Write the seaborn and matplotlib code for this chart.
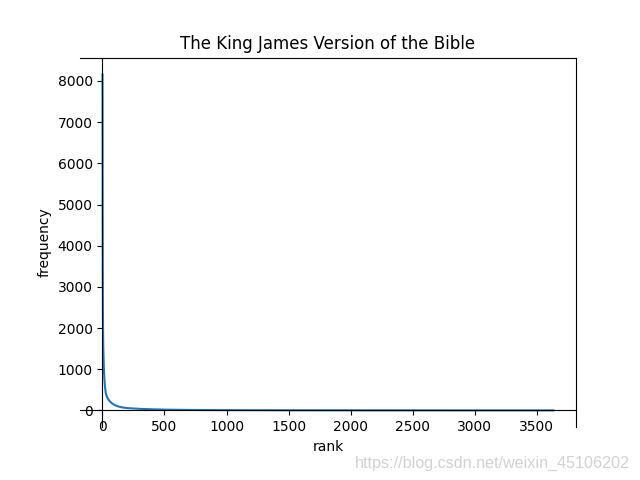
import matplotlib
matplotlib.use("Agg")
import matplotlib.pyplot as plt
import seaborn as sns
import pandas as pd

rank = [1, 2, 3, 4, 5, 6, 8, 10, 12, 15, 20, 25, 30, 40, 50, 60, 80, 100,
        130, 160, 200, 250, 300, 400, 500, 700, 1000, 1500, 2000, 2500, 3000, 3635]
freq = [8160, 4800, 3400, 2500, 2000, 1700, 1400, 1200, 1000, 800, 600, 470, 380,
        310, 260, 220, 165, 128, 95, 73, 58, 48, 38, 28, 20, 12, 7, 4, 3, 2, 1, 1]

title = "The King James Version of the Bible"
xlabel = "rank"
ylabel = "frequency"
watermark = "https://blog.csdn.net/weixin_45106202"

df = pd.DataFrame({"rank": rank, "frequency": freq})

fig, ax = plt.subplots(figsize=(6.4, 4.8), dpi=100)
sns.lineplot(data=df, x="rank", y="frequency", ax=ax, color="#1f77b4", linewidth=1.5)

ax.spines["left"].set_position(("data", 0))
ax.spines["bottom"].set_position(("data", 0))
ax.set_xticks(range(0, 4000, 500))
ax.set_yticks(range(0, 9000, 1000))
ax.set_title(title)
ax.set_xlabel(xlabel)
ax.set_ylabel(ylabel)

fig.text(630 / 640, 1 - 463 / 480, watermark, ha="right", va="center",
         color="#d2d2d2", fontsize=11.6, family=["Liberation Sans", "DejaVu Sans"])

fig.savefig("out.png", dpi=100)
